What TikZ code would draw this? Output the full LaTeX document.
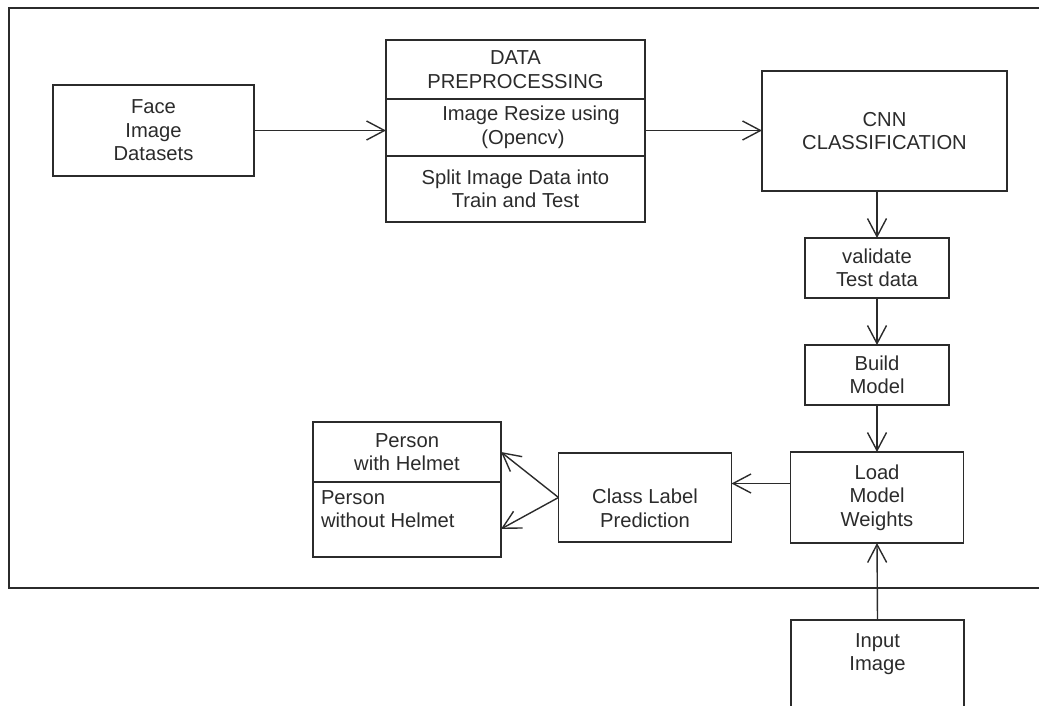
\documentclass[tikz,border=0pt]{standalone}
\usepackage{fontspec}
\setmainfont{Liberation Sans}
\usetikzlibrary{positioning,chains,arrows.meta}
\definecolor{inkgray}{HTML}{2B2B2B}
\tikzset{
>={Straight Barb[length=9pt,width=9.5pt]},
  blok/.style={
    rectangle,
    draw=inkgray, line width=0.7pt,
    text=inkgray,
    align=center,
    inner sep=2pt,
    outer sep=0pt,
    font=\fontsize{10.1pt}{11.75pt}\selectfont},
  lbl/.style={
    align=center,
    text=inkgray,
    inner sep=0pt,
    font=\fontsize{10.1pt}{11.75pt}\selectfont},
  line/.style={draw=inkgray, line width=0.7pt, ->},
  frame/.style={draw=inkgray, line width=0.7pt},
  every join/.style={line},
}

\begin{document}
\begin{tikzpicture}[x=0.5pt, y=-0.5pt, node distance=23.5pt, start chain=going below]
\useasboundingbox (0,0) rectangle (1039,706);
% outer frame, open on the right
\draw[frame] (1039,8) -- (9,8) -- (9,588) -- (1039,588);

\node[blok, minimum width=100.5pt, minimum height=45.5pt] (face) at (153.5,130.5) {Face\\Image\\Datasets};

% preprocessing, three parts
\node[blok, minimum width=129.5pt, minimum height=29.5pt] (prep) at (515.5,69.5) {DATA\\PREPROCESSING};
\node[blok, minimum width=129.5pt, minimum height=28.5pt, below=0pt of prep] (resize) {\hspace*{15.5pt}Image Resize using\\\hspace*{7.5pt}(Opencv)};
\node[blok, minimum width=129.5pt, minimum height=33pt, below=0pt of resize] (split) {Split Image Data into\\Train and Test};

\node[blok, minimum width=122.5pt, minimum height=60pt] (cnn) at (884.5,131) {CNN\\CLASSIFICATION};

\node[blok, on chain, minimum width=72pt, minimum height=30pt] (val) at (877,268) {validate\\Test data};
\node[blok, on chain, join, minimum width=72pt, minimum height=30pt] (build) {Build\\Model};
\node[blok, on chain, join, minimum width=86.5pt, minimum height=45.5pt] (load) {Load\\Model\\Weights};

\node[blok, minimum width=86.5pt, minimum height=44.5pt, left=29.5pt of load,
  label={[lbl, yshift=-5.5pt]center:{Class Label\\Prediction}}] (cls) {};

% output classes
\node[blok, minimum width=94pt, minimum height=30pt] (helmet) at (407,452) {Person\\with Helmet};
\node[blok, below=0pt of helmet, inner xsep=4pt, inner ysep=3pt] (nohelmet) {\parbox[c][31.5pt][t]{86pt}{\raggedright\strut Person\\without Helmet}};

\node[blok, minimum width=86.5pt, minimum height=60pt, anchor=north,
  label={[lbl, anchor=north, yshift=-6.5pt]north:{Input\\Image}}] (input) at (877.5,620) {};

\draw[line] (face.east) -- (face.east -| resize.west);
\draw[line] (face.east -| resize.east) -- (face.east -| cnn.west);
\draw[line] (cnn.south -| val.north) -- (val.north);
\draw[line] ([yshift=7pt]load.west) -- ([yshift=7pt]cls.east);
\draw[line] (cls.west) -- (helmet.east);
\draw[line] (cls.west) -- ([yshift=-4.75pt]nohelmet.east);
\draw[line] (input.north) -- (load.south);
\end{tikzpicture}
\end{document}
